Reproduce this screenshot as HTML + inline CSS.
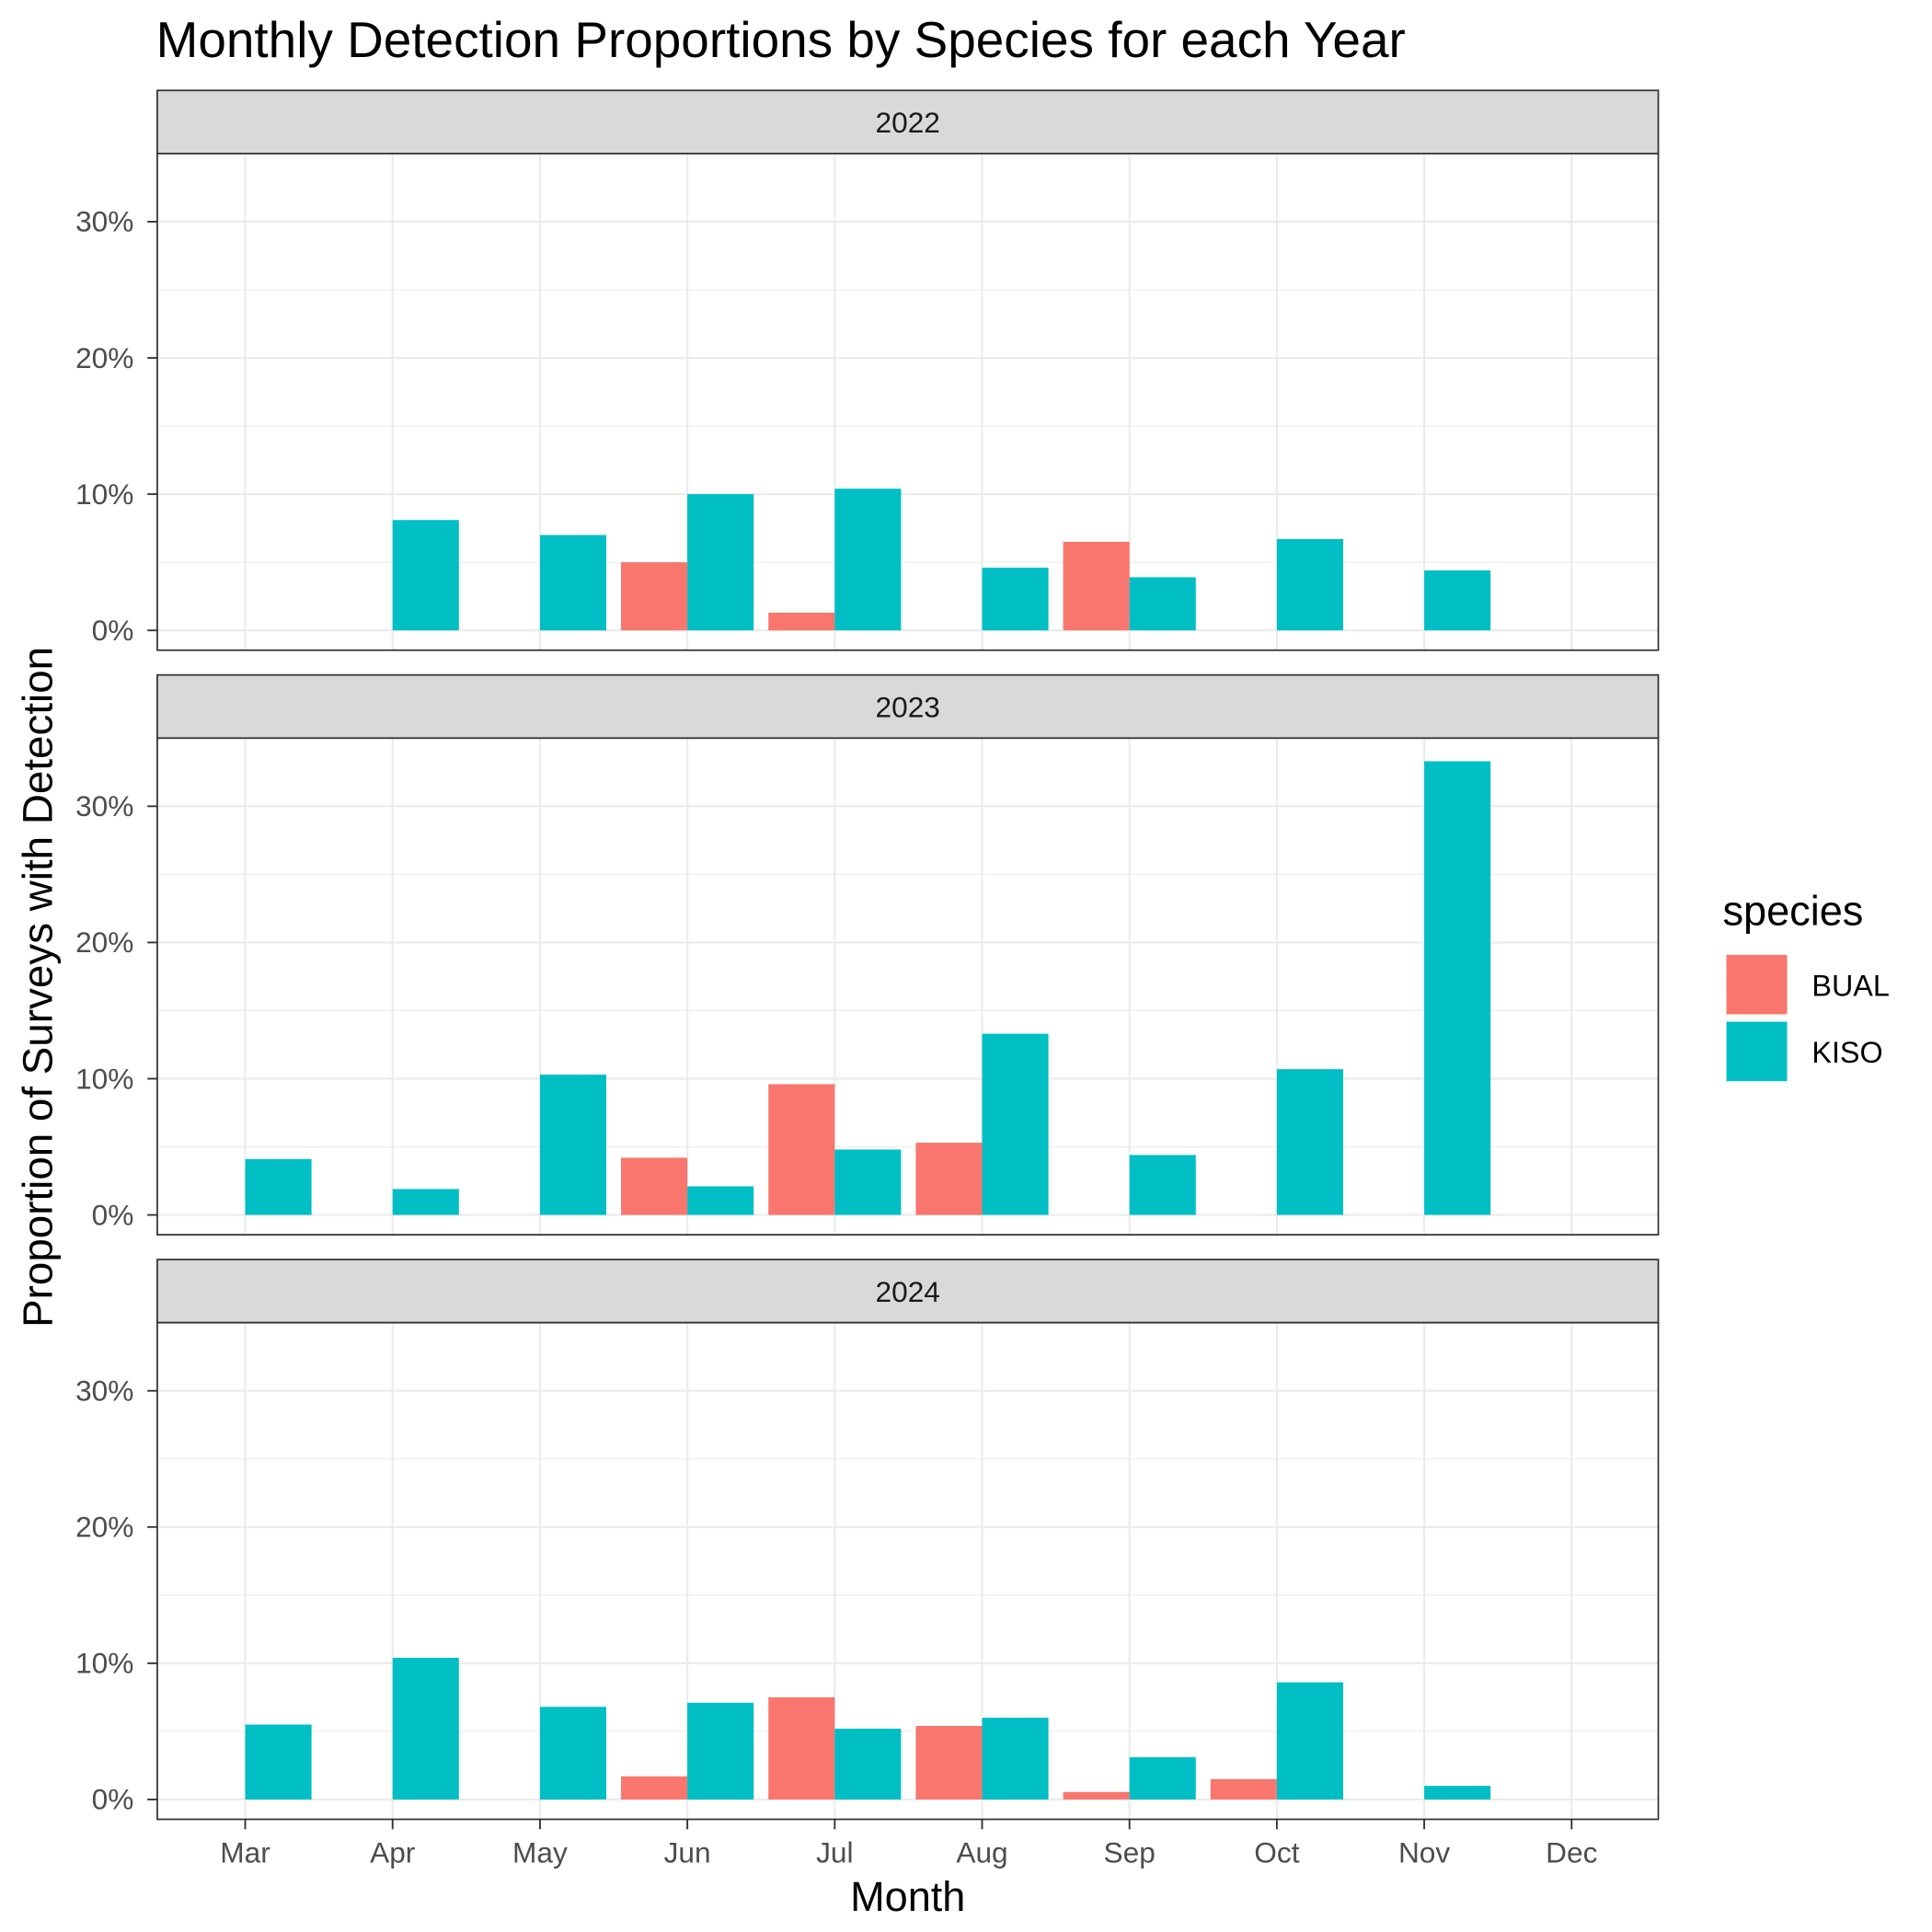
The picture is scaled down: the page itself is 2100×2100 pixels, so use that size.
<!DOCTYPE html>
<html><head><meta charset="utf-8"><style>
html,body{margin:0;padding:0;background:#fff}
svg{display:block;font-family:"Liberation Sans",Arial,sans-serif}
</style></head><body>
<svg id="chart" width="2100" height="2100" viewBox="0 0 1560 1560" xmlns="http://www.w3.org/2000/svg">
<rect width="1560" height="1560" fill="#fff"/>
<text x="126" y="46" font-size="40.8" fill="#000">Monthly Detection Proportions by Species for each Year</text>
<text transform="translate(42,797) rotate(-90)" text-anchor="middle" font-size="34" fill="#000">Proportion of Surveys with Detection</text>
<text x="733" y="1543" text-anchor="middle" font-size="33.5" fill="#000">Month</text>
<g id="panels"></g>
<g>
<text x="1391" y="747" font-size="33.5" fill="#000">species</text>
<rect x="1394" y="771" width="49" height="48" fill="#F8766D"/>
<text x="1463" y="804" font-size="24" fill="#000">BUAL</text>
<rect x="1394" y="825" width="49" height="48" fill="#00BFC4"/>
<text x="1463" y="858" font-size="24" fill="#000">KISO</text>
</g>
</svg>
<script>
const years = ["2022","2023","2024"];
const months = ["Mar","Apr","May","Jun","Jul","Aug","Sep","Oct","Nov","Dec"];
const bual2022 = [0,0,0,5.0,1.3,0,6.5,0,0,0];
const kiso2022 = [0,8.1,7.0,10.0,10.4,4.6,3.9,6.7,4.4,0];
const bual2023 = [0,0,0,4.2,9.6,5.3,0,0,0,0];
const kiso2023 = [4.1,1.9,10.3,2.1,4.8,13.3,4.4,10.7,33.3,0];
const bual2024 = [0,0,0,1.7,7.5,5.4,0.55,1.5,0,0];
const kiso2024 = [5.5,10.4,6.8,7.1,5.2,6.0,3.1,8.6,1.0,0];
const yTicks = [0,10,20,30];
const yTickLabels = ["0%","10%","20%","30%"];
const yMinor = [5,15,25];

const NS="http://www.w3.org/2000/svg";
const bual=[bual2022,bual2023,bual2024], kiso=[kiso2022,kiso2023,kiso2024];
const X0=127,X1=1339, step=119, firstX=198, barW=53.55;
const xScale=i=>firstX+i*step;
const pxPerPct=11;
function mk(tag,attrs,parent){const e=document.createElementNS(NS,tag);for(const k in attrs)e.setAttribute(k,attrs[k]);parent.appendChild(e);return e;}
const root=document.getElementById('panels');
years.forEach((yr,p)=>{
  const stripTop=73+p*472, top=stripTop+51, bottom=top+401, zero=bottom-16;
  const yScale=v=>zero-v*pxPerPct;
  const g=mk('g',{},root);
  
  
  const s=mk('rect',{x:X0,y:stripTop,width:X1-X0,height:51,fill:'#D9D9D9',stroke:'#333','stroke-width':1.3},g);
  
  
  const st=mk('text',{x:(X0+X1)/2,y:stripTop+34,'text-anchor':'middle','font-size':23.5,fill:'#1A1A1A'},g);
  st.textContent=yr;
  
  
  mk('rect',{x:X0,y:top,width:X1-X0,height:bottom-top,fill:'#fff'},g);
  yMinor.forEach(v=>{const l=mk('line',{x1:X0,x2:X1,y1:yScale(v),y2:yScale(v),stroke:'#EBEBEB','stroke-width':0.8},g);
    });
  yTicks.forEach((v,i)=>{
    const l=mk('line',{x1:X0,x2:X1,y1:yScale(v),y2:yScale(v),stroke:'#EBEBEB','stroke-width':1.6},g);
    
    mk('line',{x1:X0-8,x2:X0,y1:yScale(v),y2:yScale(v),stroke:'#333','stroke-width':1.4},g);
    const t=mk('text',{x:X0-19,y:yScale(v)+8,'text-anchor':'end','font-size':23.5,fill:'#4D4D4D'},g);
    t.textContent=yTickLabels[i];
    
  });
  months.forEach((m,i)=>{const l=mk('line',{x1:xScale(i),x2:xScale(i),y1:top,y2:bottom,stroke:'#EBEBEB','stroke-width':1.6},g);
    });
  months.forEach((m,i)=>{
    const b=bual[p][i], k=kiso[p][i];
    if(b>0){const r=mk('rect',{x:xScale(i)-barW,y:yScale(b),width:barW,height:zero-yScale(b),fill:'#F8766D'},g);
      }
    if(k>0){const r=mk('rect',{x:xScale(i),y:yScale(k),width:barW,height:zero-yScale(k),fill:'#00BFC4'},g);
      }
  });
  mk('rect',{x:X0,y:top,width:X1-X0,height:bottom-top,fill:'none',stroke:'#333','stroke-width':1.3},g);
  if(p===2){
    months.forEach((m,i)=>{
      mk('line',{x1:xScale(i),x2:xScale(i),y1:bottom,y2:bottom+8,stroke:'#333','stroke-width':1.4},g);
      const t=mk('text',{x:xScale(i),y:bottom+35,'text-anchor':'middle','font-size':23.5,fill:'#4D4D4D'},g);
      t.textContent=m;
      
    });
  }
});
</script>
</body></html>
